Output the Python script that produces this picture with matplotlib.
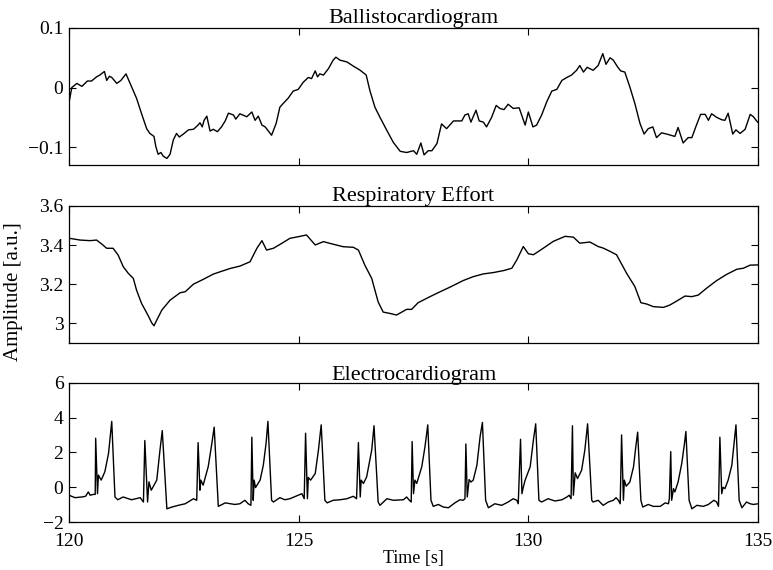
import matplotlib
matplotlib.use("Agg")
import matplotlib.pyplot as plt

plt.rcParams['font.family'] = ['Liberation Serif', 'DejaVu Serif']
plt.rcParams['font.size'] = 14

# Ballistocardiogram (time in s, amplitude)
bcg_t = [120.01, 120.06, 120.17, 120.28, 120.40, 120.49, 120.60, 120.67, 120.77, 120.82,
         120.88, 120.93, 121.04, 121.13, 121.24, 121.33, 121.47, 121.58, 121.69, 121.76,
         121.85, 121.89, 121.94, 122.00, 122.05, 122.13, 122.20, 122.27, 122.34, 122.40,
         122.49, 122.60, 122.71, 122.81, 122.85, 122.90, 122.94, 123.00, 123.07, 123.14,
         123.23, 123.32, 123.40, 123.47, 123.58, 123.63, 123.72, 123.87, 123.98, 124.05,
         124.12, 124.20, 124.27, 124.34, 124.41, 124.51, 124.59, 124.67, 124.77, 124.88,
         124.99, 125.10, 125.21, 125.28, 125.36, 125.41, 125.46, 125.54, 125.65, 125.75,
         125.81, 125.90, 126.05, 126.19, 126.34, 126.47, 126.55, 126.66, 126.77, 126.92,
         127.06, 127.21, 127.35, 127.50, 127.57, 127.66, 127.73, 127.82, 127.90, 128.01,
         128.11, 128.22, 128.37, 128.55, 128.62, 128.69, 128.75, 128.86, 128.93, 129.02,
         129.09, 129.20, 129.30, 129.38, 129.47, 129.56, 129.67, 129.80, 129.93, 130.00,
         130.10, 130.18, 130.29, 130.40, 130.51, 130.62, 130.73, 130.84, 130.94, 131.05,
         131.12, 131.20, 131.28, 131.41, 131.52, 131.62, 131.69, 131.78, 131.85, 131.94,
         132.01, 132.10, 132.21, 132.32, 132.43, 132.52, 132.61, 132.71, 132.79, 132.90,
         133.01, 133.19, 133.26, 133.37, 133.48, 133.56, 133.65, 133.75, 133.85, 133.92,
         133.99, 134.10, 134.21, 134.28, 134.35, 134.45, 134.52, 134.61, 134.72, 134.83,
         134.90, 134.99]
bcg_v = [-0.021, 0.000, 0.007, 0.002, 0.011, 0.011, 0.018, 0.021, 0.027, 0.012,
         0.019, 0.017, 0.007, 0.012, 0.023, 0.007, -0.018, -0.044, -0.069, -0.077,
         -0.082, -0.099, -0.112, -0.109, -0.115, -0.119, -0.112, -0.088, -0.077, -0.083,
         -0.078, -0.071, -0.070, -0.063, -0.059, -0.066, -0.055, -0.048, -0.073, -0.070,
         -0.074, -0.066, -0.056, -0.043, -0.046, -0.053, -0.044, -0.049, -0.041, -0.055,
         -0.048, -0.063, -0.066, -0.073, -0.080, -0.060, -0.033, -0.026, -0.018, -0.006,
         -0.003, 0.009, 0.017, 0.015, 0.028, 0.018, 0.023, 0.021, 0.032, 0.046,
         0.051, 0.046, 0.043, 0.036, 0.029, 0.021, -0.005, -0.033, -0.050, -0.072,
         -0.092, -0.107, -0.109, -0.106, -0.112, -0.093, -0.113, -0.106, -0.106, -0.094,
         -0.061, -0.069, -0.056, -0.056, -0.046, -0.044, -0.058, -0.038, -0.056, -0.058,
         -0.066, -0.050, -0.030, -0.035, -0.037, -0.028, -0.035, -0.034, -0.063, -0.041,
         -0.066, -0.063, -0.046, -0.024, -0.006, -0.003, 0.012, 0.017, 0.021, 0.029,
         0.037, 0.026, 0.034, 0.029, 0.037, 0.057, 0.039, 0.050, 0.046, 0.035,
         0.028, 0.026, 0.001, -0.027, -0.060, -0.078, -0.069, -0.066, -0.084, -0.076,
         -0.078, -0.082, -0.067, -0.093, -0.084, -0.084, -0.065, -0.045, -0.045, -0.055,
         -0.044, -0.050, -0.054, -0.055, -0.043, -0.078, -0.071, -0.077, -0.070, -0.045,
         -0.049, -0.058]

# Respiratory effort
resp_t = [120.01, 120.24, 120.46, 120.60, 120.71, 120.82, 120.96, 121.07, 121.18, 121.29,
          121.40, 121.47, 121.58, 121.73, 121.80, 121.85, 121.91, 122.02, 122.20, 122.42,
          122.53, 122.71, 122.92, 123.14, 123.29, 123.51, 123.72, 123.94, 124.09, 124.20,
          124.30, 124.45, 124.63, 124.81, 124.99, 125.17, 125.36, 125.54, 125.68, 125.97,
          126.19, 126.30, 126.44, 126.59, 126.73, 126.84, 126.99, 127.13, 127.35, 127.46,
          127.60, 127.86, 128.08, 128.29, 128.58, 128.80, 129.02, 129.24, 129.46, 129.64,
          129.75, 129.89, 130.00, 130.11, 130.33, 130.54, 130.80, 130.98, 131.12, 131.34,
          131.52, 131.63, 131.78, 131.92, 132.14, 132.32, 132.45, 132.58, 132.72, 132.94,
          133.08, 133.27, 133.41, 133.56, 133.70, 133.88, 134.10, 134.32, 134.54, 134.68,
          134.83, 134.99]
resp_v = [3.435, 3.426, 3.423, 3.426, 3.406, 3.384, 3.384, 3.349, 3.290, 3.256,
          3.230, 3.170, 3.102, 3.037, 3.003, 2.988, 3.017, 3.068, 3.119, 3.157,
          3.162, 3.201, 3.225, 3.252, 3.264, 3.281, 3.293, 3.315, 3.384, 3.423,
          3.375, 3.384, 3.409, 3.435, 3.443, 3.452, 3.401, 3.418, 3.409, 3.392,
          3.389, 3.375, 3.298, 3.230, 3.110, 3.058, 3.051, 3.043, 3.072, 3.072,
          3.106, 3.137, 3.162, 3.185, 3.219, 3.239, 3.253, 3.260, 3.270, 3.282,
          3.325, 3.393, 3.356, 3.351, 3.385, 3.419, 3.445, 3.441, 3.410, 3.416,
          3.393, 3.385, 3.368, 3.351, 3.256, 3.188, 3.106, 3.099, 3.086, 3.082,
          3.094, 3.120, 3.140, 3.137, 3.145, 3.180, 3.219, 3.251, 3.277, 3.282,
          3.298, 3.299]

# Electrocardiogram
ecg_t = [120.00, 120.13, 120.28, 120.36, 120.42, 120.46, 120.53, 120.57, 120.58, 120.62,
         120.64, 120.70, 120.78, 120.86, 120.93, 121.00, 121.06, 121.18, 121.36, 121.55,
         121.62, 121.65, 121.71, 121.74, 121.79, 121.91, 121.98, 122.03, 122.13, 122.24,
         122.38, 122.53, 122.71, 122.78, 122.81, 122.85, 122.87, 122.92, 123.03, 123.11,
         123.16, 123.25, 123.40, 123.61, 123.72, 123.83, 123.90, 123.96, 123.98, 124.01,
         124.03, 124.06, 124.16, 124.23, 124.29, 124.33, 124.41, 124.45, 124.59, 124.70,
         124.81, 124.99, 125.07, 125.12, 125.15, 125.19, 125.21, 125.26, 125.36, 125.43,
         125.49, 125.57, 125.62, 125.75, 125.90, 126.05, 126.19, 126.26, 126.30, 126.34,
         126.36, 126.41, 126.48, 126.59, 126.64, 126.73, 126.77, 126.92, 127.06, 127.28,
         127.35, 127.41, 127.45, 127.47, 127.50, 127.53, 127.57, 127.68, 127.75, 127.81,
         127.88, 127.93, 128.04, 128.15, 128.26, 128.40, 128.51, 128.58, 128.62, 128.64,
         128.67, 128.71, 128.75, 128.80, 128.88, 128.95, 129.00, 129.07, 129.13, 129.27,
         129.42, 129.56, 129.67, 129.75, 129.78, 129.83, 129.86, 129.89, 129.93, 130.04,
         130.11, 130.16, 130.23, 130.29, 130.43, 130.58, 130.73, 130.84, 130.89, 130.93,
         130.96, 130.98, 131.02, 131.07, 131.16, 131.23, 131.29, 131.38, 131.41, 131.52,
         131.63, 131.74, 131.85, 131.91, 131.96, 132.00, 132.03, 132.07, 132.09, 132.13,
         132.21, 132.29, 132.34, 132.38, 132.45, 132.49, 132.61, 132.72, 132.87, 132.98,
         133.05, 133.07, 133.10, 133.12, 133.16, 133.19, 133.26, 133.34, 133.40, 133.43,
         133.50, 133.56, 133.67, 133.81, 133.92, 134.04, 134.10, 134.14, 134.17, 134.21,
         134.24, 134.28, 134.35, 134.43, 134.48, 134.52, 134.59, 134.65, 134.75, 134.83,
         134.90, 135.00]
ecg_v = [-0.46, -0.60, -0.56, -0.52, -0.27, -0.46, -0.41, -0.41, 2.82, -0.37,
         0.70, 0.41, 0.89, 1.95, 3.79, -0.56, -0.72, -0.56, -0.72, -0.60,
         -0.85, 2.69, -0.85, 0.31, -0.17, 0.41, 2.14, 3.26, -1.24, -1.14,
         -1.04, -0.95, -0.66, -0.75, 2.57, -0.17, 0.41, 0.12, 1.18, 2.53,
         3.46, -1.10, -0.90, -0.99, -0.95, -0.75, -0.95, -1.04, 2.88, -0.75,
         0.41, -0.02, 0.41, 1.27, 2.53, 3.79, -0.75, -0.85, -0.60, -0.72,
         -0.66, -0.46, -0.37, -0.66, 3.11, -0.66, 0.56, 0.41, 0.79, 2.14,
         3.59, -0.75, -0.90, -0.75, -0.72, -0.66, -0.52, -0.66, 2.57, -0.56,
         0.41, 0.22, 0.60, 2.14, 3.54, -0.85, -1.04, -0.66, -0.75, -0.72,
         -0.56, -0.75, -0.85, 2.63, -0.37, 0.41, 0.22, 1.18, 2.34, 3.59,
         -0.75, -1.10, -0.99, -1.14, -1.18, -0.90, -0.72, -0.75, -0.66, 2.49,
         -0.56, 0.44, 0.30, 0.41, 1.27, 2.92, 3.73, -0.75, -1.18, -0.95,
         -1.04, -0.85, -0.66, -0.75, -0.95, 2.76, -0.37, 0.00, 0.41, 1.18,
         2.72, 3.65, -0.75, -0.85, -0.66, -0.79, -0.72, -0.56, -0.46, -0.66,
         3.54, -0.46, 0.83, 0.50, 0.98, 2.14, 3.65, -0.75, -0.85, -0.75,
         -1.04, -0.85, -0.75, -0.60, -0.75, -0.95, 3.01, -0.75, 0.41, 0.06,
         0.30, 1.18, 2.34, 3.17, -0.75, -1.14, -0.99, -1.10, -1.10, -0.90,
         -0.95, -0.66, 2.05, -0.75, -0.08, -0.27, 0.30, 1.37, 2.53, 3.21,
         -0.75, -1.24, -1.04, -1.10, -0.99, -0.75, -0.85, -1.10, 2.88, -0.37,
         0.00, -0.08, 0.41, 1.27, 2.53, 3.59, -0.75, -1.18, -0.85, -0.95,
         -0.99, -0.95]

panels = [
    ("Ballistocardiogram", bcg_t, bcg_v, (-0.13, 0.1), [-0.1, 0, 0.1], ["\u22120.1", "0", "0.1"]),
    ("Respiratory Effort", resp_t, resp_v, (2.9, 3.6), [3.0, 3.2, 3.4, 3.6], ["3", "3.2", "3.4", "3.6"]),
    ("Electrocardiogram", ecg_t, ecg_v, (-2, 6), [-2, 0, 2, 4, 6], ["\u22122", "0", "2", "4", "6"]),
]

fig = plt.figure(figsize=(7.73, 5.70), dpi=100)
rects = [(0.0893, 0.7105, 0.8913, 0.2404),
         (0.0893, 0.3982, 0.8913, 0.2404),
         (0.0893, 0.0842, 0.8913, 0.2439)]

for i, (name, t, v, ylim, yt, ylab) in enumerate(panels):
    ax = fig.add_axes(rects[i])
    ax.plot(t, v, color='black', lw=1.0)
    ax.set_xlim(120, 135)
    ax.set_ylim(*ylim)
    ax.set_xticks([120, 125, 130, 135])
    ax.set_yticks(yt)
    ax.set_yticklabels(ylab)
    ax.tick_params(direction='in', length=5, width=0.8, top=True, right=True, labelsize=14)
    ax.tick_params(axis='y', pad=4)
    ax.tick_params(axis='x', pad=8)
    if i < 2:
        ax.set_xticklabels([])
    else:
        ax.set_xticklabels(["120", "125", "130", "135"])
        ax.set_xlabel("Time [s]", fontsize=13, labelpad=0)
    for sp in ax.spines.values():
        sp.set_linewidth(0.9)
    ax.set_title(name, fontsize=16, pad=2)

fig.text(0.018, 0.4877, "Amplitude [a.u.]", rotation=90, ha='center', va='center', fontsize=15)

fig.savefig("out.png", dpi=100)
